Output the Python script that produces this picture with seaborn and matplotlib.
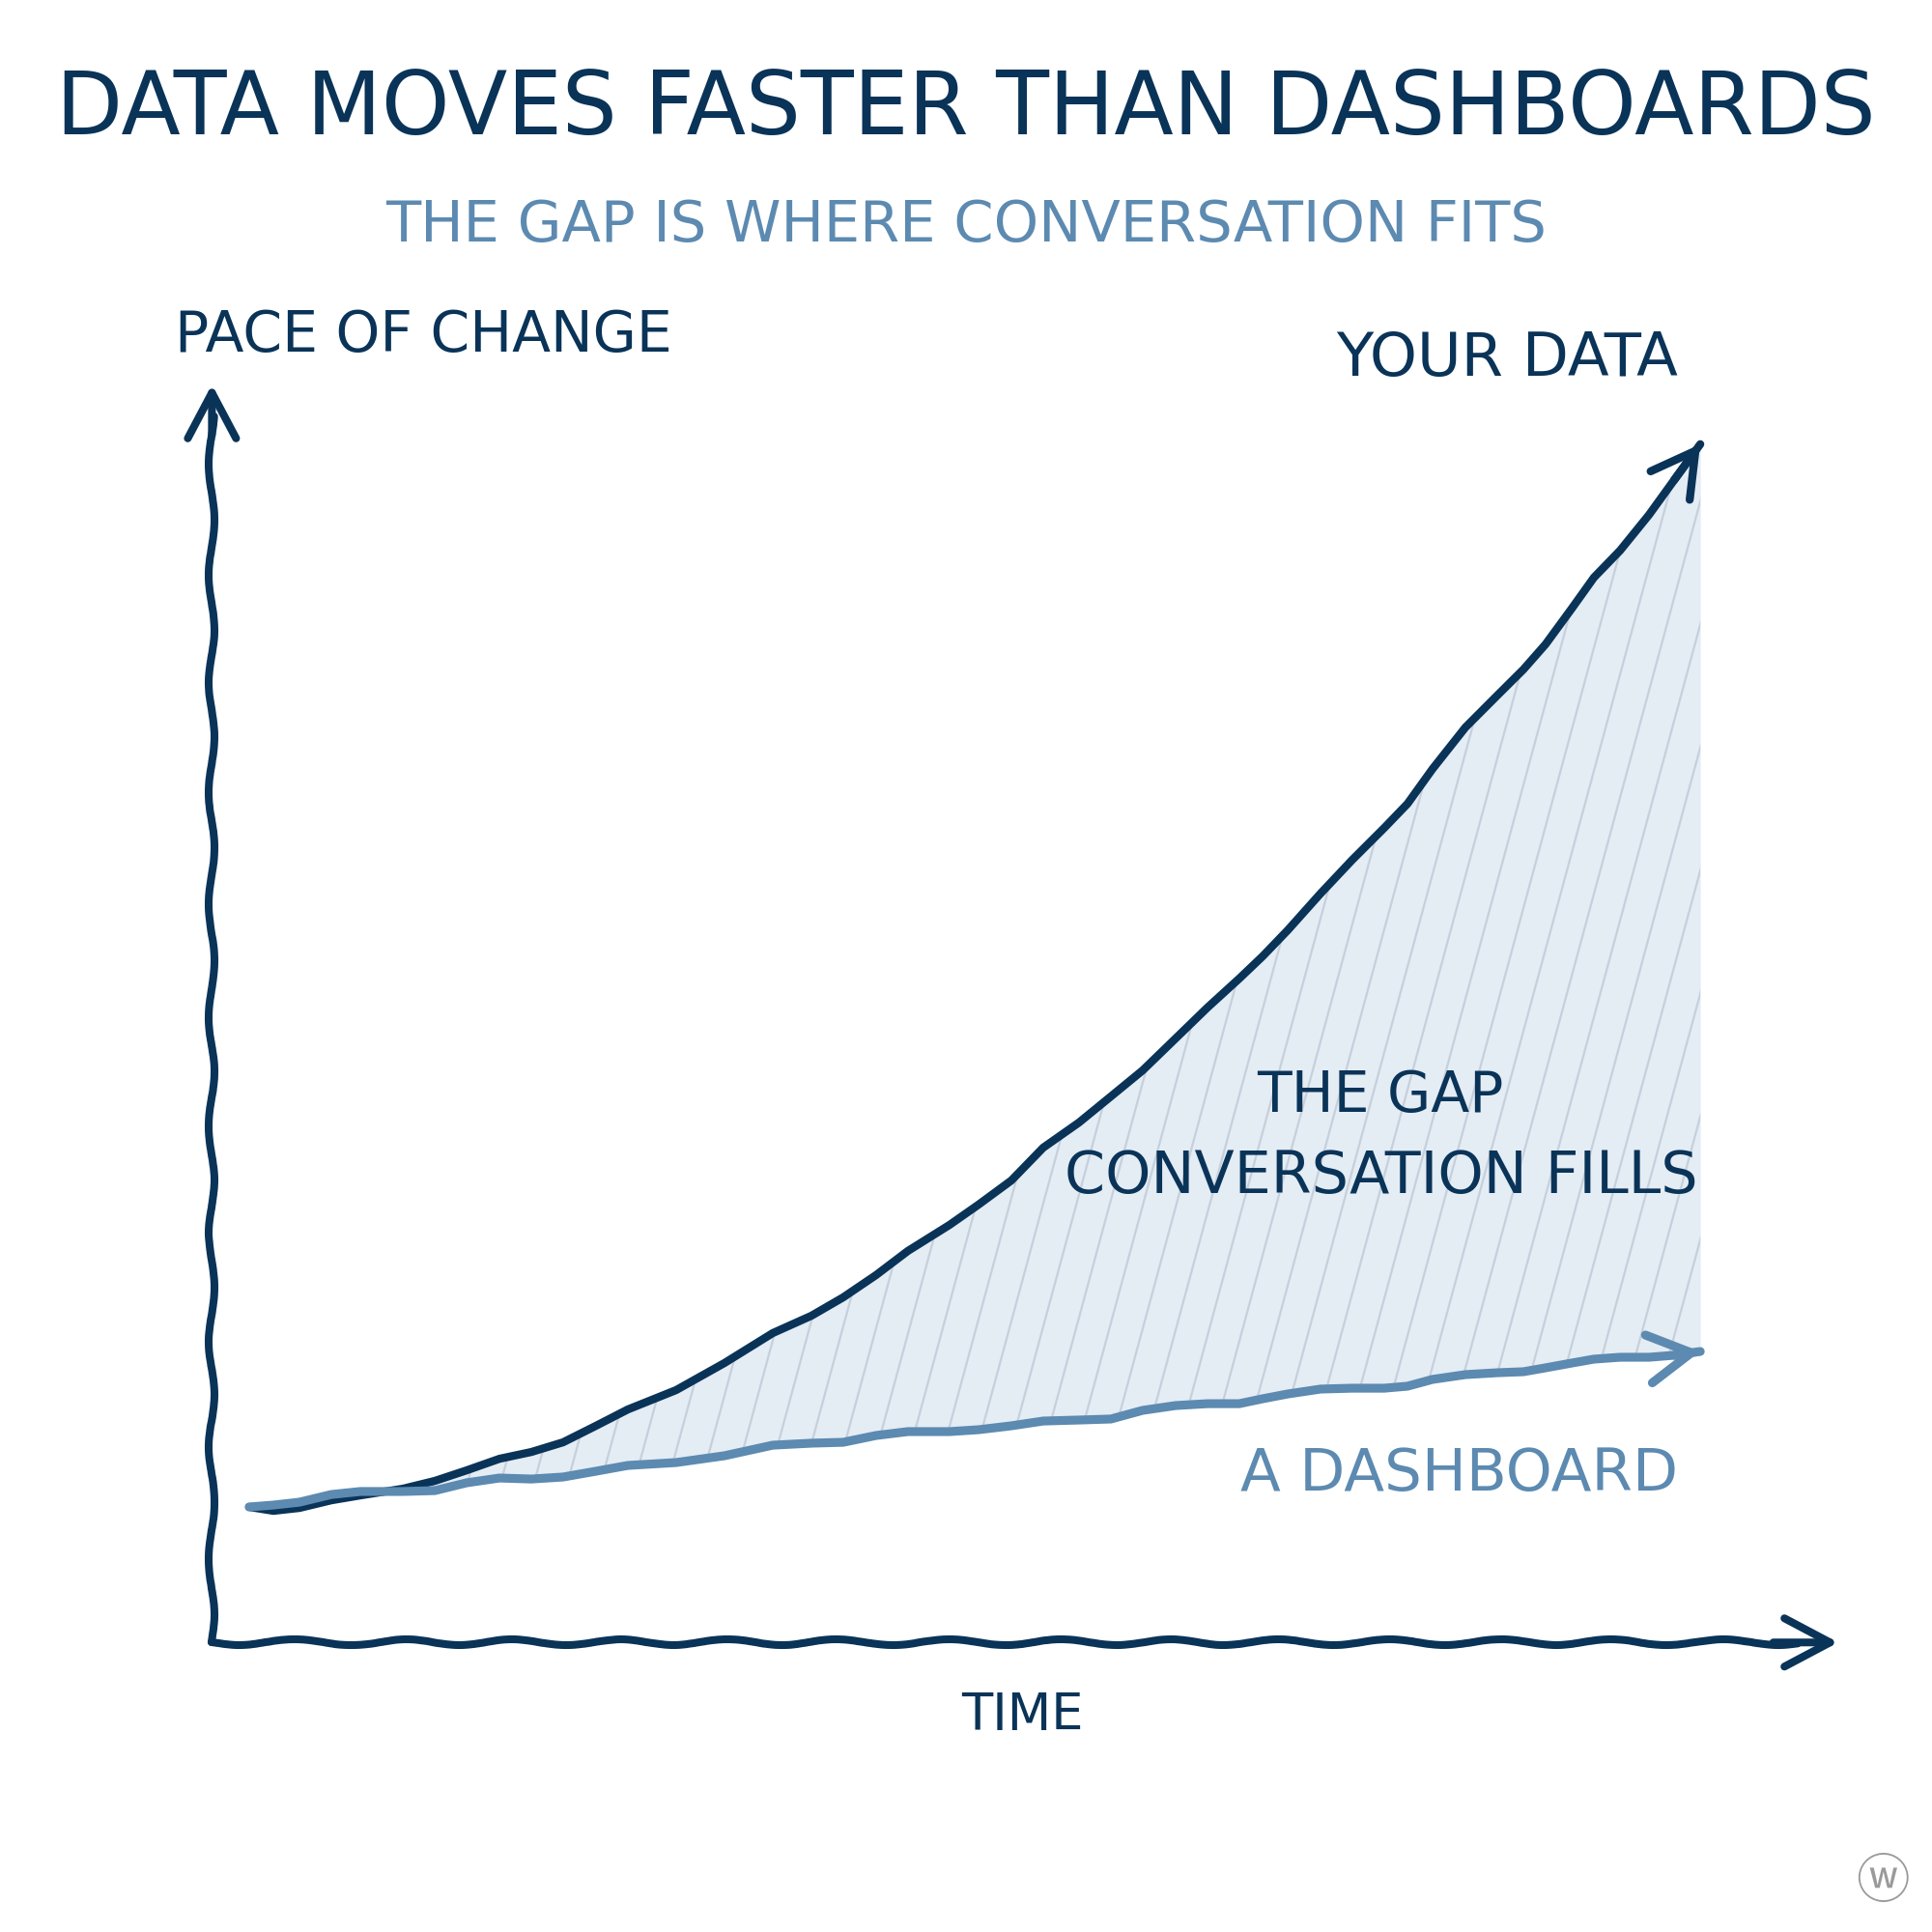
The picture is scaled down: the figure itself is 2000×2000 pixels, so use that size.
import numpy as np
import pandas as pd
import matplotlib
matplotlib.use("Agg")
import matplotlib.pyplot as plt
import seaborn as sns
from matplotlib.collections import LineCollection

# ---- data ----
time = [2.29, 3.78, 5.38, 7.34, 9.13, 11.74, 13.70, 15.66, 17.68, 19.64,
        21.59, 23.61, 25.57, 28.54, 31.51, 34.48, 36.86, 38.81, 40.83, 42.79,
        45.35, 47.13, 49.15, 51.11, 53.31, 55.27, 57.23, 59.25, 61.21, 63.17,
        64.60, 66.14, 68.16, 70.12, 72.08, 73.51, 75.05, 77.07, 79.03, 80.64,
        82.00, 83.61, 84.97, 86.58, 88.36, 89.91, 91.51]
your_data = [10.77, 10.46, 10.69, 11.30, 11.69, 12.22, 12.84, 13.68, 14.60, 15.14,
             15.91, 17.22, 18.52, 20.06, 22.21, 24.59, 25.97, 27.43, 29.20, 31.12,
             33.19, 34.80, 36.72, 39.33, 41.33, 43.40, 45.48, 48.01, 50.47, 52.78,
             54.54, 56.61, 59.53, 62.22, 64.75, 66.67, 69.44, 72.74, 75.28, 77.35,
             79.35, 82.19, 84.65, 86.80, 89.64, 92.41, 95.25]
dashboard = [10.77, 10.92, 11.15, 11.76, 12.00, 12.00, 12.07, 12.69, 13.07, 12.99,
             13.15, 13.61, 14.07, 14.30, 14.84, 15.68, 15.84, 15.91, 16.45, 16.76,
             16.76, 16.91, 17.22, 17.60, 17.68, 17.76, 18.45, 18.83, 18.98, 18.98,
             19.37, 19.75, 20.14, 20.21, 20.21, 20.37, 20.91, 21.29, 21.44, 21.52,
             21.83, 22.21, 22.52, 22.67, 22.67, 22.83, 23.13]

title = "DATA MOVES FASTER THAN DASHBOARDS"
subtitle = "THE GAP IS WHERE CONVERSATION FITS"
y_label = "PACE OF CHANGE"
x_label = "TIME"
label_data = "YOUR DATA"
label_dash = "A DASHBOARD"
label_gap = ["THE GAP", "CONVERSATION FILLS"]

NAVY = "#0a3358"
LIGHT = "#5c8ab1"
FILL = "#e4ecf4"
HATCH = "#c6d0dc"

sns.set_theme(style="white")
plt.rcParams["font.family"] = ["DejaVu Sans"]

df = pd.DataFrame({"time": time, "your_data": your_data, "dashboard": dashboard})

fig = plt.figure(figsize=(10, 10), dpi=200)
fig.patch.set_facecolor("white")
ax = fig.add_axes([172 / 1568, 1 - 1333 / 1568, (1492 - 172) / 1568, (1333 - 312) / 1568])

# gap fill + steep hatching
poly = ax.fill_between(df["time"], df["dashboard"], df["your_data"], color=FILL, lw=0, zorder=1)
dx_frac = 0.2096
step = 0.0205
segs = [[(x0, 0), (x0 + dx_frac, 1)] for x0 in np.arange(-0.3, 1.0, step)]
lc = LineCollection(segs, transform=ax.transAxes, colors=HATCH, linewidths=0.8, zorder=1.5)
ax.add_collection(lc, autolim=False)
lc.set_clip_path(poly.get_paths()[0], ax.transData)

# series lines
sns.lineplot(data=df, x="time", y="your_data", color=NAVY, lw=3.0, ax=ax,
             solid_capstyle="round", solid_joinstyle="round", zorder=3)
sns.lineplot(data=df, x="time", y="dashboard", color=LIGHT, lw=3.3, ax=ax,
             solid_capstyle="round", solid_joinstyle="round", zorder=4)
ax.set_xlim(0, 100)
ax.set_ylim(0, 100)
ax.set_axis_off()

# arrow heads on series
for ys, col, lw in [(your_data, NAVY, 3.0), (dashboard, LIGHT, 3.3)]:
    ax.annotate("", xy=(time[-1], ys[-1]), xytext=(time[-2], ys[-2]),
                arrowprops=dict(arrowstyle="->,head_length=1.6,head_width=0.9", color=col,
                                lw=lw, shrinkA=0, shrinkB=0, mutation_scale=10,
                                capstyle="round", joinstyle="round"), zorder=4)

# hand-drawn axes: wobbly shafts + clean arrow heads
for (x0, y0), (x1, y1) in [((0, 0), (0, 0.975)), ((0, 0), (0.975, 0))]:
    shaft, = ax.plot([x0, x1], [y0, y1], transform=ax.transAxes, color=NAVY, lw=2.9,
                     solid_capstyle="round", clip_on=False, zorder=5)
    shaft.set_sketch_params(3, 118, 1.5)
for xy, xt in [((0, 1), (0, 0.96)), ((1, 0), (0.96, 0))]:
    ax.annotate("", xy=xy, xytext=xt, xycoords="axes fraction", textcoords="axes fraction",
                arrowprops=dict(arrowstyle="->,head_length=1.7,head_width=0.9",
                                color=NAVY, lw=2.9, shrinkA=0, shrinkB=0,
                                mutation_scale=10, capstyle="round", joinstyle="round"),
                zorder=5)

# text
def ftxt(x, y, s, **kw):
    fig.text(x / 1568, 1 - y / 1568, s, va="baseline", **kw)

ftxt(784, 109, title, ha="center", color=NAVY, fontsize=32.3)
ftxt(784, 196, subtitle, ha="center", color=LIGHT, fontsize=21.3)
ftxt(142, 285, y_label, ha="left", color=NAVY, fontsize=21)
ftxt(1362, 305, label_data, ha="right", color=NAVY, fontsize=22.5)
ftxt(1120, 902, label_gap[0], ha="center", color=NAVY, fontsize=21)
ftxt(1121, 968, label_gap[1], ha="center", color=NAVY, fontsize=21.7)
ftxt(1184, 1210, label_dash, ha="center", color=LIGHT, fontsize=22)
ftxt(830, 1404, x_label, ha="center", color=NAVY, fontsize=19)
fig.text(1528 / 1568, 1 - 1528 / 1568, "\u24e6", ha="center", va="center", color="#9a9a9a",
         fontsize=20, family=["Noto Sans CJK JP", "DejaVu Sans"])

fig.savefig("out.png", dpi=200, facecolor="white")
